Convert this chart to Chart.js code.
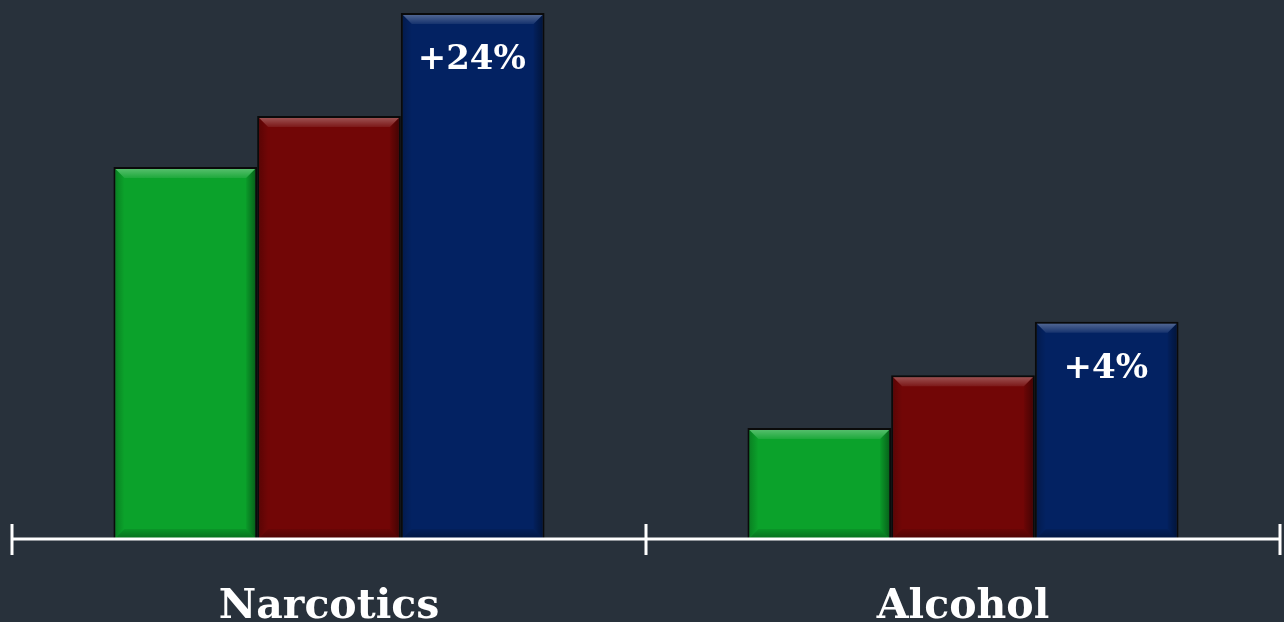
<!DOCTYPE html>
<html>
<head>
<meta charset="utf-8">
<script src="https://cdn.jsdelivr.net/npm/chart.js@4/dist/chart.umd.min.js"></script>
<style>
  html, body { margin: 0; padding: 0; background: #28313b; }
  #wrap { width: 1284px; height: 622px; }
</style>
</head>
<body>
<div id="wrap"><canvas id="chart"></canvas></div>
<script>
// data
const categories = ['Narcotics', 'Alcohol'];
const seriesNames = ['Period 1', 'Period 2', 'Period 3'];
const greenValues = [69.0, 20.6];
const redValues = [78.5, 30.4];
const blueValues = [97.6, 40.3];
const blueNotes = ['+24%', '+4%'];

const FONT = "'DejaVu Serif', 'Liberation Serif', serif";

// bevel on each bar, drawn from the bar elements themselves
const bevelPlugin = {
    id: 'bevel',
    afterDatasetsDraw(chart) {
        const ctx = chart.ctx;
        chart.data.datasets.forEach((ds, i) => {
            chart.getDatasetMeta(i).data.forEach(bar => {
                const l = bar.x - bar.width / 2 + 2, r = bar.x + bar.width / 2 - 2;
                const t = bar.y + 2, b = bar.base - 1;
                const d = 9;
                ctx.save();
                // top, lighter
                let g = ctx.createLinearGradient(0, t, 0, t + d);
                g.addColorStop(0, 'rgba(255,255,255,0.30)');
                g.addColorStop(1, 'rgba(255,255,255,0.08)');
                ctx.fillStyle = g;
                ctx.beginPath();
                ctx.moveTo(l, t); ctx.lineTo(r, t); ctx.lineTo(r - d, t + d); ctx.lineTo(l + d, t + d);
                ctx.closePath(); ctx.fill();
                // right, darker
                g = ctx.createLinearGradient(r - d, 0, r, 0);
                g.addColorStop(0, 'rgba(0,0,0,0.05)');
                g.addColorStop(1, 'rgba(0,0,0,0.38)');
                ctx.fillStyle = g;
                ctx.beginPath();
                ctx.moveTo(r, t); ctx.lineTo(r, b); ctx.lineTo(r - d, b - d); ctx.lineTo(r - d, t + d);
                ctx.closePath(); ctx.fill();
                // left, slight shade
                g = ctx.createLinearGradient(l, 0, l + d, 0);
                g.addColorStop(0, 'rgba(0,0,0,0.2)');
                g.addColorStop(1, 'rgba(0,0,0,0.0)');
                ctx.fillStyle = g;
                ctx.beginPath();
                ctx.moveTo(l, t); ctx.lineTo(l + d, t + d); ctx.lineTo(l + d, b - d); ctx.lineTo(l, b);
                ctx.closePath(); ctx.fill();
                // bottom, darker
                g = ctx.createLinearGradient(0, b - d, 0, b);
                g.addColorStop(0, 'rgba(0,0,0,0.08)');
                g.addColorStop(1, 'rgba(0,0,0,0.3)');
                ctx.fillStyle = g;
                ctx.beginPath();
                ctx.moveTo(l, b); ctx.lineTo(r, b); ctx.lineTo(r - d, b - d); ctx.lineTo(l + d, b - d);
                ctx.closePath(); ctx.fill();
                ctx.restore();
            });
        });
    }
};

// notes on the blue bars
const notesPlugin = {
    id: 'notes',
    afterDatasetsDraw(chart) {
        const ctx = chart.ctx;
        const meta = chart.getDatasetMeta(2);
        ctx.save();
        ctx.fillStyle = '#ffffff';
        ctx.font = 'bold 34px ' + FONT;
        ctx.textAlign = 'center';
        ctx.textBaseline = 'middle';
        meta.data.forEach((bar, i) => {
            ctx.fillText(blueNotes[i], bar.x - 1, bar.y + 47);
        });
        ctx.restore();
    }
};

// axis line with ticks crossing it, and category names below
const axisPlugin = {
    id: 'axisLine',
    afterDraw(chart) {
        const ctx = chart.ctx;
        const x = chart.scales.x;
        const y = chart.chartArea.bottom;
        const half = (x.getPixelForValue(1) - x.getPixelForValue(0)) / 2;
        const ticks = [x.getPixelForValue(0) - half];
        categories.forEach((c, i) => ticks.push(x.getPixelForValue(i) + half));
        ctx.save();
        ctx.strokeStyle = '#ffffff';
        ctx.lineWidth = 3;
        ctx.beginPath();
        ctx.moveTo(ticks[0], y); ctx.lineTo(ticks[ticks.length - 1], y);
        ticks.forEach(tx => { ctx.moveTo(tx, y - 15); ctx.lineTo(tx, y + 16); });
        ctx.stroke();
        ctx.fillStyle = '#ffffff';
        ctx.font = 'bold 41px ' + FONT;
        ctx.textAlign = 'center';
        ctx.textBaseline = 'alphabetic';
        categories.forEach((c, i) => ctx.fillText(c, x.getPixelForValue(i), y + 79));
        ctx.restore();
    }
};

new Chart(document.getElementById('chart'), {
    type: 'bar',
    data: {
        labels: categories,
        datasets: [
            { label: seriesNames[0], data: greenValues, backgroundColor: '#0ba22b' },
            { label: seriesNames[1], data: redValues, backgroundColor: '#720606' },
            { label: seriesNames[2], data: blueValues, backgroundColor: '#032262' }
        ]
    },
    options: {
        responsive: true,
        maintainAspectRatio: false,
        animation: false,
        layout: { padding: { left: 12, right: 4, top: 0, bottom: 83 } },
        datasets: {
            bar: {
                borderColor: '#0a0a0a',
                borderWidth: 2,
                categoryPercentage: 0.68,
                barPercentage: 1.0
            }
        },
        scales: {
            x: {
                grid: { display: false, drawTicks: false },
                border: { display: false },
                ticks: { display: false }
            },
            y: {
                display: false,
                min: 0,
                max: 100
            }
        },
        plugins: {
            legend: { display: false },
            tooltip: { enabled: false }
        }
    },
    plugins: [bevelPlugin, notesPlugin, axisPlugin]
});
</script>
</body>
</html>
